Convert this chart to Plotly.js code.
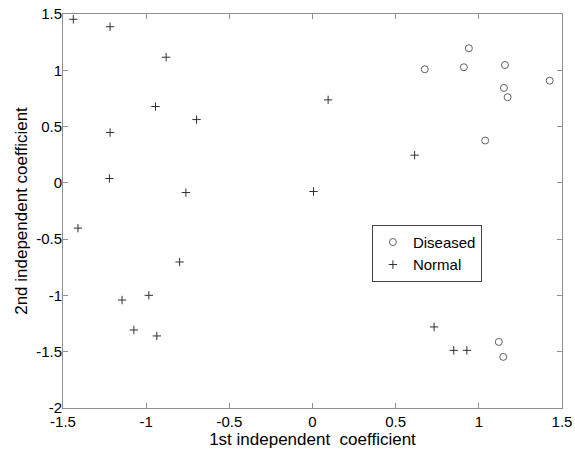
<!DOCTYPE html>
<html>
<head>
<script src="https://cdn.plot.ly/plotly-3.0.1.min.js"></script>
<style>html,body{margin:0;padding:0;background:#fff}#chart{width:575px;height:453px}</style>
</head>
<body>
<div id="chart"></div>
<script>
// Diseased samples
const diseasedX = [0.675, 0.940, 0.910, 1.157, 1.426, 1.151, 1.173, 1.038, 1.120, 1.147];
const diseasedY = [1.009, 1.196, 1.027, 1.047, 0.908, 0.843, 0.761, 0.376, -1.413, -1.546];
// Normal samples
const normalX = [-1.438, -1.217, -0.880, -0.944, -0.697, -1.217, -1.221, -0.761, -1.410, -0.799, -1.145, -0.984, -1.074, -0.936, 0.094, 0.614, 0.006, 0.731, 0.849, 0.928];
const normalY = [1.453, 1.387, 1.116, 0.678, 0.562, 0.447, 0.039, -0.086, -0.402, -0.703, -1.041, -0.999, -1.307, -1.360, 0.737, 0.246, -0.077, -1.280, -1.488, -1.488];
const xTicks = [-1.5, -1, -0.5, 0, 0.5, 1, 1.5];
const yTicks = [-2, -1.5, -1, -0.5, 0, 0.5, 1, 1.5];

const fam = 'Liberation Sans, Arial, sans-serif';
const tickFont = {family: fam, size: 15, color: '#000'};
const titleFont = {family: fam, size: 17, color: '#000'};
const axisCommon = {
  showgrid: false, zeroline: false, showline: true, mirror: 'ticks',
  linecolor: '#909090', linewidth: 1, ticks: 'inside', ticklen: 5, tickcolor: '#909090',
  tickfont: tickFont
};
const data = [
  {x: diseasedX, y: diseasedY, name: 'Diseased', type: 'scatter', mode: 'markers',
   marker: {symbol: 'circle-open', size: 7, color: '#606060', line: {width: 1, color: '#606060'}}},
  {x: normalX, y: normalY, name: 'Normal', type: 'scatter', mode: 'markers',
   marker: {symbol: 'cross-thin-open', size: 6, color: '#303030', line: {width: 1, color: '#303030'}}}
];
const layout = {
  width: 575, height: 453,
  margin: {l: 63, r: 13, t: 14, b: 45},
  paper_bgcolor: '#fff', plot_bgcolor: '#fff',
  font: tickFont,
  showlegend: true,
  legend: {x: 0.619, y: 0.465, xanchor: 'left', yanchor: 'top', bordercolor: '#404040', borderwidth: 1,
           bgcolor: '#fff', font: {family: fam, size: 15, color: '#000'}, tracegroupgap: 0},
  xaxis: Object.assign({}, axisCommon, {range: [-1.5, 1.5], tickvals: xTicks, ticktext: xTicks.map(String),
    title: {text: '1st independent&nbsp; coefficient', font: titleFont, standoff: 2}}),
  yaxis: Object.assign({}, axisCommon, {range: [-2, 1.5], tickvals: yTicks, ticktext: yTicks.map(String),
    ticklabelstandoff: -3,
    title: {text: '2nd independent coefficient', font: titleFont, standoff: 4}})
};
Plotly.newPlot('chart', data, layout, {displayModeBar: false});
</script>
</body>
</html>
